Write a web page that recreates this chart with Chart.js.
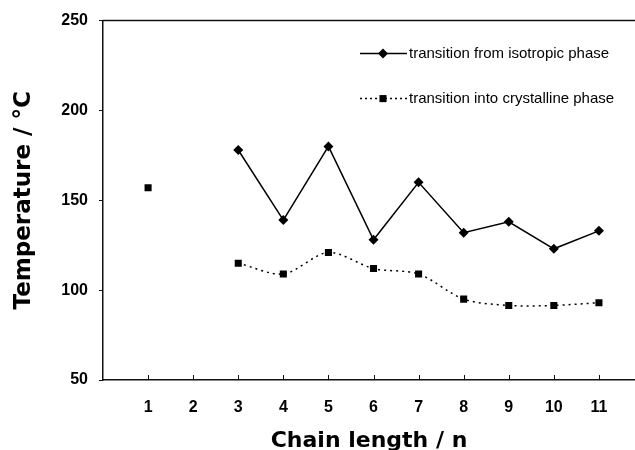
<!DOCTYPE html>
<html>
<head>
<meta charset="utf-8">
<script src="https://cdn.jsdelivr.net/npm/chart.js@4.4.1/dist/chart.umd.min.js"></script>
<style>
  html, body { margin: 0; padding: 0; background: #fff; }
  #wrap { width: 635px; height: 450px; }
</style>
</head>
<body>
<div id="wrap"><canvas id="myChart" width="635" height="450"></canvas></div>
<script>
var chainLength = [1, 2, 3, 4, 5, 6, 7, 8, 9, 10, 11];
var isotropic = [null, null, 178, 139, 180, 128, 160, 132, 138, 123, 133];
var crystalline = [157, null, 115, 109, 121, 112, 109, 95, 91.5, 91.5, 93];
var yTicks = [50, 100, 150, 200, 250];
var seriesNames = ['transition from isotropic phase', 'transition into crystalline phase'];

function points(vals) {
  return chainLength.map(function (n, i) { return { x: n, y: vals[i] }; });
}

// top frame line, inward x ticks and the in-plot legend
var extras = {
  id: 'extras',
  afterDraw: function (chart) {
    var ctx = chart.ctx, a = chart.chartArea, xs = chart.scales.x;
    ctx.save();
    ctx.strokeStyle = '#111';
    ctx.lineWidth = 1.5;
    ctx.beginPath();
    ctx.moveTo(a.left, a.top);
    ctx.lineTo(chart.width, a.top);
    ctx.stroke();
    ctx.lineWidth = 1;
    chainLength.forEach(function (n) {
      var px = Math.round(xs.getPixelForValue(n)) + 0.5;
      ctx.beginPath();
      ctx.moveTo(px, a.bottom);
      ctx.lineTo(px, a.bottom - 5);
      ctx.stroke();
    });

    // legend
    var lx0 = 360, lx1 = 407, mx = 383;
    chart.data.datasets.forEach(function (ds, i) {
      var y = a.top + 33 + i * 45;
      ctx.strokeStyle = '#000';
      ctx.lineWidth = ds.borderWidth;
      ctx.setLineDash(i === 1 ? [2, 3] : []);
      ctx.beginPath();
      ctx.moveTo(lx0, y);
      ctx.lineTo(lx1, y);
      ctx.stroke();
      ctx.setLineDash([]);
      ctx.fillStyle = '#000';
      ctx.beginPath();
      if (ds.pointStyle === 'rectRot') {
        var r = ds.pointRadius;
        ctx.moveTo(mx, y - r); ctx.lineTo(mx + r, y); ctx.lineTo(mx, y + r); ctx.lineTo(mx - r, y);
      } else {
        var s = ds.pointRadius * Math.SQRT1_2;
        ctx.rect(mx - s, y - s, 2 * s, 2 * s);
      }
      ctx.closePath();
      ctx.fill();
      ctx.font = '15px "Liberation Sans", Arial, sans-serif';
      ctx.textBaseline = 'middle';
      ctx.fillText(ds.label, lx1 + 2, y);
    });
    ctx.restore();
  }
};

var ctx = document.getElementById('myChart').getContext('2d');
var myChart = new Chart(ctx, {
  type: 'line',
  data: {
    datasets: [{
      label: seriesNames[0],
      data: points(isotropic),
      borderColor: '#000',
      backgroundColor: '#000',
      borderWidth: 1.5,
      pointStyle: 'rectRot',
      pointRadius: 5,
      pointBorderWidth: 0,
      tension: 0,
      spanGaps: false
    }, {
      label: seriesNames[1],
      data: points(crystalline),
      borderColor: '#000',
      backgroundColor: '#000',
      borderWidth: 1.5,
      borderDash: [2, 4],
      pointStyle: 'rect',
      pointRadius: 5,
      pointBorderWidth: 0,
      tension: 0.3,
      spanGaps: false
    }]
  },
  options: {
    responsive: false,
    animation: false,
    layout: { autoPadding: false, padding: { top: 19, right: 0, left: 0, bottom: 0 } },
    plugins: {
      legend: { display: false },
      tooltip: { enabled: false }
    },
    scales: {
      x: {
        type: 'linear',
        min: 0,
        max: 11.8,
        afterBuildTicks: function (scale) {
          scale.ticks = chainLength.map(function (n) { return { value: n }; });
        },
        afterFit: function (scale) {
          scale.height = 70;
          scale.paddingLeft = 0;
          scale.paddingRight = 0;
        },
        grid: { display: true, drawOnChartArea: false, drawTicks: false },
        border: { display: true, color: '#111', width: 1.5 },
        ticks: {
          color: '#000',
          padding: 18,
          maxRotation: 0,
          font: { family: '"Liberation Sans", Arial, sans-serif', size: 16, weight: 'bold' }
        },
        title: {
          display: true,
          text: 'Chain length / n',
          color: '#000',
          padding: { top: 0, bottom: -2 },
          font: { family: '"DejaVu Sans", sans-serif', size: 22, weight: 'bold', lineHeight: 1 }
        }
      },
      y: {
        min: 50,
        max: 250,
        afterBuildTicks: function (scale) {
          scale.ticks = yTicks.map(function (v) { return { value: v }; });
        },
        afterFit: function (scale) { scale.width = 103; },
        grid: { display: true, drawOnChartArea: false, drawTicks: true, tickLength: 4, color: '#111' },
        border: { display: true, color: '#111', width: 1.5 },
        ticks: {
          color: '#000',
          padding: 11,
          font: { family: '"Liberation Sans", Arial, sans-serif', size: 16, weight: 'bold' }
        },
        title: {
          display: true,
          text: 'Temperature / °C',
          color: '#000',
          padding: { top: 13, bottom: 0 },
          font: { family: '"DejaVu Sans", sans-serif', size: 23, weight: 'bold', lineHeight: 1 }
        }
      }
    }
  },
  plugins: [extras]
});
</script>
</body>
</html>
